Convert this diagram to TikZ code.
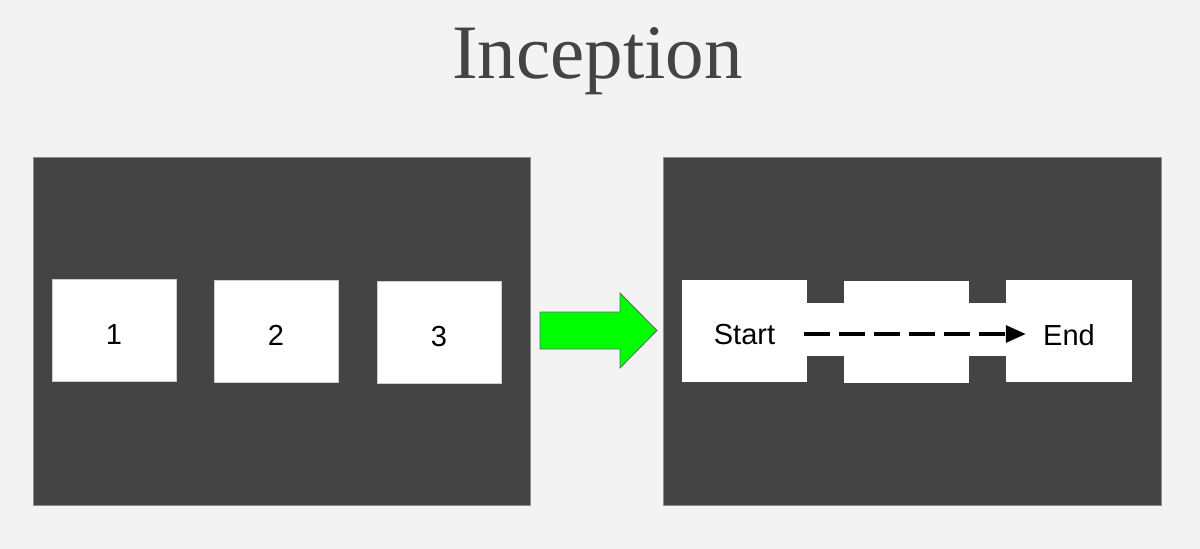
\documentclass[tikz,border=0pt]{standalone}
\usepackage{fontspec}
\newfontfamily\arialf{Liberation Sans}
\newfontfamily\titlef{Liberation Serif}
\usetikzlibrary{arrows.meta}
\definecolor{bgc}{HTML}{F3F3F3}
\definecolor{panelc}{HTML}{444444}
\definecolor{panelb}{HTML}{8C8C8C}
\definecolor{titlec}{HTML}{444444}
\definecolor{greenc}{HTML}{00FF00}
\begin{document}
\begin{tikzpicture}[x=1pt,y=-1pt,
  panel/.style={draw=panelb,line width=0.8pt,fill=panelc},
  wbox/.style={draw=white!80!black,line width=0.5pt,fill=white,inner sep=0pt,
    minimum width=124pt,minimum height=102pt,text height=28pt,text depth=0pt,
    font=\arialf\fontsize{29}{34}\selectfont},
  bridge/.style={fill=white,draw=none},
  dasharrow/.style={line width=3.2pt,dash pattern=on 26pt off 9pt,
    -{Triangle[length=20pt,width=17pt]}}]
\useasboundingbox (0,0) rectangle (1200,549);
\fill[bgc] (0,0) rectangle (1200,549);
% title
\node[anchor=base,text=titlec,font=\titlef\fontsize{77}{82}\selectfont,inner sep=0pt] (title) at (597.5,78) {Inception};
% panels
\draw[panel] (33,157) rectangle (530,505);
\draw[panel] (663,157) rectangle (1161,505);
% left boxes
\node[wbox] (b1) at (114,330.5) {1};
\node[wbox] (b2) at (276,331.5) {2};
\node[wbox] (b3) at (439,332) {3};
% green arrow
\draw[fill=greenc,draw=black!60,line width=0.8pt]
  (540,312) -- (620,312) -- (620,293) -- (657,330.5) -- (620,368) -- (620,349) -- (540,349) -- cycle;
% right boxes
\fill[bridge] (806,303) rectangle (845,356);
\fill[bridge] (968,303) rectangle (1007,356);
\node[wbox,draw=none,minimum width=125pt] (s) at (744.5,330.5) {Start};
\node[wbox,draw=none,minimum width=125pt] (m) at (906.5,331.5) {};
\node[wbox,draw=none,minimum width=126pt] (e) at (1069,331) {End};
\draw[dasharrow] ([xshift=-3pt,yshift=-3.5pt]s.east) -- ([xshift=20pt,yshift=-3pt]e.west);
\end{tikzpicture}
\end{document}
